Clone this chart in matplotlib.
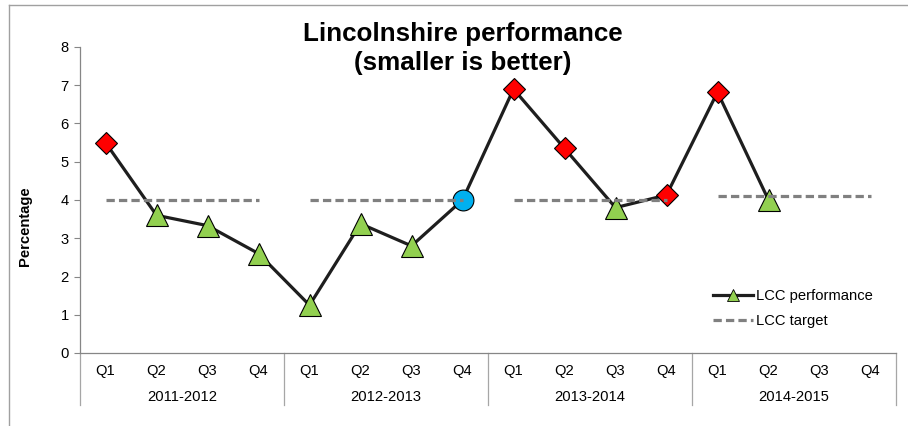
import numpy as np
import matplotlib
matplotlib.use("Agg")
import matplotlib.pyplot as plt
from matplotlib.lines import Line2D

# ---- data ----
years = ["2011-2012", "2012-2013", "2013-2014", "2014-2015"]
quarters = ["Q1", "Q2", "Q3", "Q4"]
performance = [5.5, 3.6, 3.33, 2.6,
               1.25, 3.38, 2.8, 4.0,
               6.9, 5.35, 3.8, 4.13,
               6.82, 4.0, np.nan, np.nan]
status = ["above", "below", "below", "below",
          "below", "below", "below", "on",
          "above", "above", "below", "above",
          "above", "below", None, None]
target_by_year = [4.0, 4.0, 4.0, 4.1]

FONT = "Liberation Sans"
plt.rcParams["font.family"] = [FONT, "DejaVu Sans"]
FS = 10.6

fig = plt.figure(figsize=(9.08, 4.26), dpi=100)
W, H = 908, 426
ax = fig.add_axes([80 / W, 1 - 353 / H, (896 - 80) / W, (353 - 47) / H])

n = len(performance)
x = np.arange(n)

# performance line
ax.plot(x, performance, color="#1e1e1e", lw=2.3, zorder=2, solid_capstyle="round")

# markers by status
styles = {
    "above": dict(marker="D", ms=11.2, mfc="#FF0000"),
    "below": dict(marker="^", ms=15.5, mfc="#92D050"),
    "on": dict(marker="o", ms=15.0, mfc="#00B0F0"),
}
for xi, v, s in zip(x, performance, status):
    if s is None or np.isnan(v):
        continue
    st = styles[s]
    ax.plot([xi], [v], linestyle="none", marker=st["marker"], ms=st["ms"],
            mfc=st["mfc"], mec="#000000", mew=0.8, zorder=3)

# target segments (one per year)
for i, t in enumerate(target_by_year):
    xs = x[i * 4:(i + 1) * 4]
    ax.plot([xs[0], xs[-1]], [t, t], color="#808080", lw=2.3,
            dashes=(2.6, 1.3), zorder=4)

ax.set_xlim(-0.5, n - 0.5)
ax.set_ylim(0, 8)
ax.set_yticks(range(0, 9))
ax.tick_params(axis="y", length=4, width=0.8, color="#868686", pad=4,
               labelsize=FS)
ax.set_xticks([])

for sp in ["top", "right"]:
    ax.spines[sp].set_visible(False)
for sp in ["left", "bottom"]:
    ax.spines[sp].set_color("#868686")
    ax.spines[sp].set_linewidth(0.9)

# multi-level category axis
trans = ax.get_xaxis_transform()
for xi in x:
    ax.annotate(quarters[xi % 4], xy=(xi, 0), xycoords=trans,
                xytext=(0, -13.3), textcoords="offset points",
                ha="center", va="center", fontsize=FS)
for i, yr in enumerate(years):
    ax.annotate(yr, xy=(i * 4 + 1.5, 0), xycoords=trans,
                xytext=(0, -31.7), textcoords="offset points",
                ha="center", va="center", fontsize=FS)
sep_len = 52 / 306  # in axes fraction
for i in range(len(years) + 1):
    ax.plot([i * 4 - 0.5, i * 4 - 0.5], [0, -sep_len], transform=trans,
            color="#a6a6a6", lw=0.9, clip_on=False)

ax.set_ylabel("Percentage", fontsize=FS, fontweight="bold")
ax.yaxis.set_label_coords(-48 / 816, 0.415)

fig.text(463 / W, 1 - 48.5 / H, "Lincolnshire performance\n(smaller is better)",
         ha="center", va="center", fontsize=18.7, fontweight="bold",
         linespacing=1.3)

# legend
handles = [
    Line2D([0], [0], color="#1e1e1e", lw=2.3, marker="^", ms=8,
           mfc="#92D050", mec="#000000", mew=0.6),
    Line2D([0], [0], color="#808080", lw=2.3, dashes=(2.6, 1.3)),
]
fig.legend(handles, ["LCC performance", "LCC target"],
           loc="upper left", bbox_to_anchor=(707 / W, 1 - 283 / H),
           frameon=False, fontsize=FS, handlelength=2.7,
           handletextpad=0.2, labelspacing=0.75, borderaxespad=0)

# outer chart border (top and left visible)
fig.add_artist(Line2D([9 / W, 1], [1 - 5 / H, 1 - 5 / H],
                      transform=fig.transFigure, color="#a0a0a0", lw=1))
fig.add_artist(Line2D([9 / W, 9 / W], [0, 1 - 5 / H],
                      transform=fig.transFigure, color="#a0a0a0", lw=1))

fig.savefig("out.png", dpi=100)
